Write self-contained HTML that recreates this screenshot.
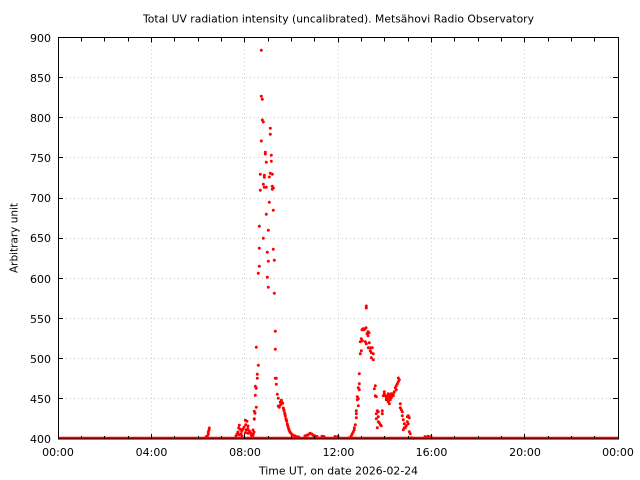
<!DOCTYPE html>
<html><head><meta charset="utf-8"><style>
html,body{margin:0;padding:0;background:#fff;}
svg{display:block;}
text{font-family:"DejaVu Sans","Liberation Sans",sans-serif;font-size:11px;fill:#000;}
</style></head><body>
<svg width="640" height="480" viewBox="0 0 640 480" xmlns="http://www.w3.org/2000/svg">
<rect width="640" height="480" fill="#fff"/>
<!-- grid -->
<g stroke="#c8c8c8" stroke-width="1" stroke-dasharray="1 3" fill="none">
<path d="M151.5 37.5V439 M244.5 37.5V439 M338.5 37.5V439 M431.5 37.5V439 M524.5 37.5V439"/>
<path d="M58 398.5H618 M58 358.5H618 M58 318.5H618 M58 278.5H618 M58 238.5H618 M58 198.5H618 M58 157.5H618 M58 117.5H618 M58 77.5H618"/>
</g>
<!-- data -->
<line x1="58" y1="437.9" x2="618" y2="437.9" stroke="#ff0000" stroke-width="2.3"/>
<path stroke="#ff0000" stroke-width="3" stroke-linecap="round" fill="none" d="
M209.3 428h0M209 430h0M208.3 432h0M208.3 434.3h0M207.3 436h0M206 437h0
M239.3 425.3h0M238.7 428h0M240.3 429.3h0M241.7 431.3h0M238 432h0M239 434.7h0M241 434h0M243 429.3h0M244 427.3h0M245.7 424.7h0M247 421.3h0M248 426h0M247.7 428.7h0M246.3 430h0M249 430.7h0M250 432h0M245.3 432.7h0M248 433.3h0M250.7 433.3h0M251.3 435.3h0M253 430h0M254 432h0M253.3 434h0M252.7 436h0M254.3 418.7h0M255 413.3h0M256.3 407.3h0M236 436h0M237 434h0M242 436h0M245.3 420.3h0M254.3 411.3h0M254.3 419.3h0
M255.3 386.3h0M256.3 388.3h0M255.3 395.3h0M256.3 347.3h0M257.3 374.3h0M257.3 378.3h0M258.3 365.3h0
M258.3 273.3h0M259.3 266.3h0M259.3 248.3h0M259.3 226.3h0M260.3 190.3h0M263.3 184.3h0M264.3 187.3h0M266.3 187.3h0M272.3 186.3h0M273.3 188h0M272.3 189.3h0M269.3 202.3h0M273.3 210.3h0M266.3 214.3h0M268.3 230.3h0M263.3 238.3h0M273.3 249.3h0M267.3 252.3h0M268.3 261.3h0M274.3 260.3h0M267.3 277.3h0M268.3 287.3h0M274.3 293.3h0
M261.3 50.3h0M261.3 96.3h0M262.3 99.3h0M262.3 120h0M263.3 122h0M270.3 128.3h0M270.3 134.3h0M261.3 141h0M265.3 152.3h0M265.3 154h0M271.3 155.3h0M271.3 161.3h0M266.3 162.3h0M260.3 174.3h0M264.3 175.3h0M264.3 177.3h0M269.3 177h0M270.3 173.3h0M272.3 174.3h0
M275.3 331.3h0M275.3 349.3h0M275.3 378.3h0M276.3 378.3h0M276.3 384.3h0M277.3 394.3h0M278.3 398.3h0M281.3 400.3h0M280.3 402.3h0
M278.3 406h0M279.3 407.3h0M280.7 404.7h0M281.7 402h0M282.7 403.3h0M283.3 408h0M284 410.7h0M284.7 413.3h0M285.3 416h0M286 418.7h0M286.7 421.3h0M287.3 424h0M288 426.7h0M288.7 428.7h0M289.3 430.7h0M290 432h0M291 433.3h0M292 434.7h0M293.3 435.3h0M295 436h0M296.7 436.7h0M298.7 437h0M283.8 409.5h0M285 414.5h0M286.3 420h0M287.6 425.3h0M289 429.7h0M290.5 432.7h0
M305 436h0M306.7 435.3h0M308.3 434.7h0M310 433.3h0M311.7 434h0M313.3 435.3h0M315 436h0M317 436.5h0M322 436.3h0M324 436.5h0M335 436.5h0M338 436.3h0
M349.3 437.7h0M351.3 435.7h0M352.3 433.7h0M353.3 431.7h0M354.3 429.7h0M354.3 427.7h0M355.3 424.7h0M356.3 417.7h0M356.3 413.7h0M356.3 410.7h0M358.3 405.7h0M357.3 399.7h0M358.3 398.7h0M357.3 396.7h0M359.3 389.7h0M358.3 387.7h0M359.3 383.7h0M359.3 373.7h0M360.3 353.7h0M361.3 350.7h0M360.3 341.7h0M361.3 338.7h0M362.3 340.7h0M362 329.7h0M363 328.7h0M364 329.7h0M365 328.7h0M366 327.7h0M366.3 306h0M366.3 308h0M368 331.7h0M369 332.7h0M367 333.7h0M368 335.7h0M365.3 341.7h0M366.3 343.7h0M369.3 342.7h0M368.3 347.7h0M370.3 347.7h0M372.3 347.7h0M370.3 350.7h0M371.3 352.7h0M373.3 353.7h0M371.3 357.7h0M373.3 359.7h0
M375.3 385.7h0M374.3 388.7h0M375.3 395.7h0M376.3 396.7h0M377.3 410.7h0M376.3 413.7h0M378.3 416.7h0M376.3 418.7h0M378.3 421.7h0M377.3 427.7h0M379.3 422.7h0M380.3 424.7h0M381.3 425.7h0M382.3 410.7h0M378.3 411.7h0M382.3 413.7h0
M384.3 391.7h0M384.3 393.7h0M383.3 395.7h0M385.3 395.7h0M386.3 397.7h0M387.3 399.7h0M388.3 401.7h0M389.3 403.7h0M390.3 399.7h0M391.3 397.7h0M392.3 395.7h0M393.3 393.7h0M394.3 391.7h0M395.3 387.7h0M396.3 385.7h0M397.3 383.7h0M398.3 381.7h0M399.3 379.7h0M398.3 378h0M396.3 389.7h0M393.3 395.7h0M388.3 393.7h0M387.3 395.7h0M389.3 397.7h0M390.3 395.7h0M386.3 399.7h0M391.3 393.7h0
M400.3 403.7h0M400.3 407.7h0M401.3 409.7h0M402.3 411.7h0M402.3 415.7h0M403.3 419.7h0M404.3 423.7h0M404.3 427.7h0M403.3 429.7h0M405.3 427.7h0M406.3 425.7h0M407.3 416.7h0M408.3 415.7h0M409.3 417.7h0M407.3 421.7h0M408.3 423.7h0M409.3 431.7h0M410.3 433.7h0M411.3 437.7h0M413.3 438.2h0
M425 436.6h0M428 436.3h0M431 436.6h0
"/>
<!-- frame -->
<rect x="58.5" y="37.5" width="560" height="401.5" fill="none" stroke="#000" stroke-width="1"/>
<!-- ticks -->
<g stroke="#000" stroke-width="1" fill="none">
<path d="M151.5 439v-5M244.5 439v-5M338.5 439v-5M431.5 439v-5M524.5 439v-5
M151.5 37.5v5M244.5 37.5v5M338.5 37.5v5M431.5 37.5v5M524.5 37.5v5"/>
<path d="M81.5 439v-3M104.5 439v-3M128.5 439v-3M174.5 439v-3M198.5 439v-3M221.5 439v-3M268.5 439v-3M291.5 439v-3M314.5 439v-3M361.5 439v-3M384.5 439v-3M408.5 439v-3M454.5 439v-3M478.5 439v-3M501.5 439v-3M548.5 439v-3M571.5 439v-3M594.5 439v-3
M81.5 37.5v4M104.5 37.5v4M128.5 37.5v4M174.5 37.5v4M198.5 37.5v4M221.5 37.5v4M268.5 37.5v4M291.5 37.5v4M314.5 37.5v4M361.5 37.5v4M384.5 37.5v4M408.5 37.5v4M454.5 37.5v4M478.5 37.5v4M501.5 37.5v4M548.5 37.5v4M571.5 37.5v4M594.5 37.5v4"/>
<path d="M58 398.5h5M58 358.5h5M58 318.5h5M58 278.5h5M58 238.5h5M58 198.5h5M58 157.5h5M58 117.5h5M58 77.5h5
M618 398.5h-5M618 358.5h-5M618 318.5h-5M618 278.5h-5M618 238.5h-5M618 198.5h-5M618 157.5h-5M618 117.5h-5M618 77.5h-5"/>
</g>
<!-- labels -->
<text x="338.5" y="22.5" text-anchor="middle" font-size="10.5" textLength="391" lengthAdjust="spacingAndGlyphs">Total UV radiation intensity (uncalibrated). Metsähovi Radio Observatory</text>
<g text-anchor="end">
<text x="51" y="443">400</text>
<text x="51" y="403">450</text>
<text x="51" y="363">500</text>
<text x="51" y="323">550</text>
<text x="51" y="283">600</text>
<text x="51" y="242">650</text>
<text x="51" y="202">700</text>
<text x="51" y="162">750</text>
<text x="51" y="122">800</text>
<text x="51" y="82">850</text>
<text x="51" y="42">900</text>
</g>
<g text-anchor="middle">
<text x="58" y="456">00:00</text>
<text x="151.5" y="456">04:00</text>
<text x="245" y="456">08:00</text>
<text x="338.5" y="456">12:00</text>
<text x="431.5" y="456">16:00</text>
<text x="525" y="456">20:00</text>
<text x="618" y="456">00:00</text>
</g>
<text x="338.5" y="474.5" text-anchor="middle" textLength="159" lengthAdjust="spacingAndGlyphs">Time UT, on date 2026-02-24</text>
<text transform="translate(17.5,238) rotate(-90)" text-anchor="middle" textLength="70" lengthAdjust="spacingAndGlyphs">Arbitrary unit</text>
</svg>
</body></html>
